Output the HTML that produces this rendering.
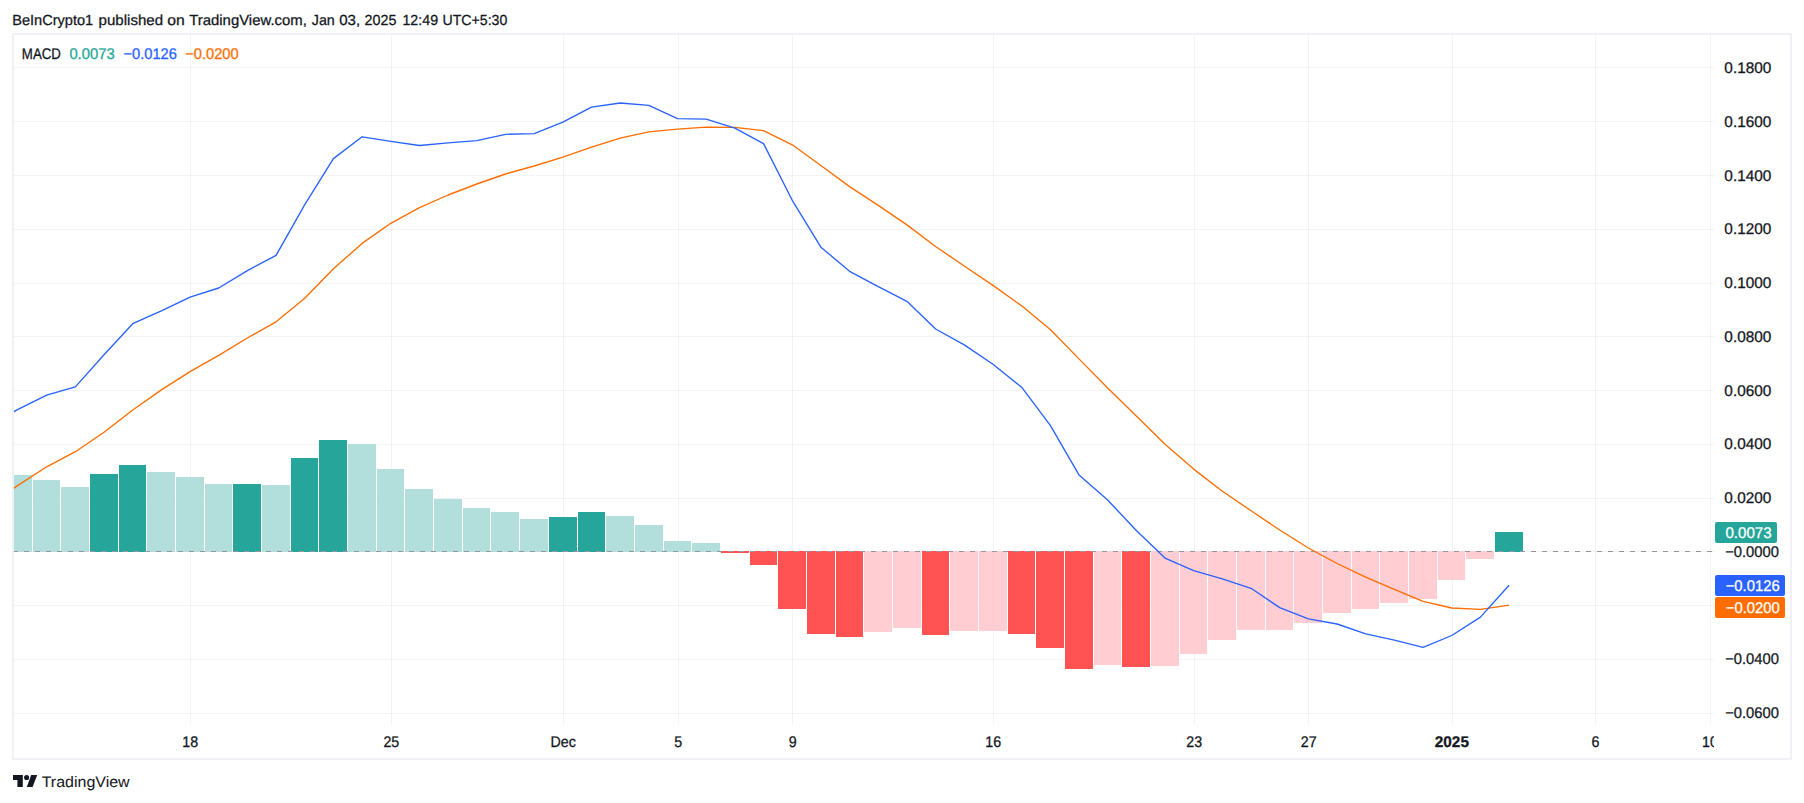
<!DOCTYPE html>
<html lang="en"><head><meta charset="utf-8"><title>MACD chart</title>
<style>
html,body{margin:0;padding:0;background:#fff;}
body{width:1804px;height:803px;overflow:hidden;position:relative;font-family:"Liberation Sans", "DejaVu Sans", sans-serif;color:#131722;}
svg{position:absolute;left:0;top:0;display:block;}
svg text{font-family:"Liberation Sans", "DejaVu Sans", sans-serif;text-rendering:geometricPrecision;}
</style></head><body>
<svg width="1804" height="803" viewBox="0 0 1804 803">
<rect x="0" y="0" width="1804" height="803" fill="#ffffff"/>
<rect x="13" y="34" width="1778" height="725" fill="none" stroke="#eff1f6" stroke-width="2"/>
<defs><clipPath id="pane"><rect x="14" y="35" width="1696" height="689"/></clipPath><clipPath id="zl"><rect x="14" y="545" width="1699" height="12"/></clipPath><clipPath id="taxis"><rect x="14" y="724" width="1700" height="34"/></clipPath></defs>
<g shape-rendering="crispEdges" fill="rgba(42,46,57,0.06)">
<rect x="190" y="35" width="1" height="689"/><rect x="391" y="35" width="1" height="689"/><rect x="563" y="35" width="1" height="689"/><rect x="678" y="35" width="1" height="689"/><rect x="792" y="35" width="1" height="689"/><rect x="993" y="35" width="1" height="689"/><rect x="1194" y="35" width="1" height="689"/><rect x="1308" y="35" width="1" height="689"/><rect x="1452" y="35" width="1" height="689"/><rect x="1595" y="35" width="1" height="689"/>
<rect x="14" y="67" width="1700" height="1"/><rect x="14" y="121" width="1700" height="1"/><rect x="14" y="175" width="1700" height="1"/><rect x="14" y="229" width="1700" height="1"/><rect x="14" y="283" width="1700" height="1"/><rect x="14" y="336" width="1700" height="1"/><rect x="14" y="390" width="1700" height="1"/><rect x="14" y="444" width="1700" height="1"/><rect x="14" y="498" width="1700" height="1"/><rect x="14" y="551" width="1700" height="1"/><rect x="14" y="605" width="1700" height="1"/><rect x="14" y="659" width="1700" height="1"/><rect x="14" y="713" width="1700" height="1"/>
<rect x="1710" y="35" width="1" height="689"/></g>
<g shape-rendering="crispEdges" clip-path="url(#pane)">
<rect x="4" y="475" width="28" height="77" fill="#b2dfdb"/><rect x="33" y="480" width="27" height="72" fill="#b2dfdb"/><rect x="61" y="487" width="28" height="65" fill="#b2dfdb"/><rect x="90" y="474" width="28" height="78" fill="#26a69a"/><rect x="119" y="465" width="27" height="87" fill="#26a69a"/><rect x="147" y="472" width="28" height="80" fill="#b2dfdb"/><rect x="176" y="477" width="28" height="75" fill="#b2dfdb"/><rect x="205" y="484" width="27" height="68" fill="#b2dfdb"/><rect x="233" y="484" width="28" height="68" fill="#26a69a"/><rect x="262" y="485" width="28" height="67" fill="#b2dfdb"/><rect x="291" y="458" width="27" height="94" fill="#26a69a"/><rect x="319" y="440" width="28" height="112" fill="#26a69a"/><rect x="348" y="444" width="28" height="108" fill="#b2dfdb"/><rect x="377" y="469" width="27" height="83" fill="#b2dfdb"/><rect x="405" y="489" width="28" height="63" fill="#b2dfdb"/><rect x="434" y="499" width="28" height="53" fill="#b2dfdb"/><rect x="463" y="508" width="27" height="44" fill="#b2dfdb"/><rect x="491" y="512" width="28" height="40" fill="#b2dfdb"/><rect x="520" y="519" width="28" height="33" fill="#b2dfdb"/><rect x="549" y="517" width="28" height="35" fill="#26a69a"/><rect x="578" y="512" width="27" height="40" fill="#26a69a"/><rect x="606" y="516" width="28" height="36" fill="#b2dfdb"/><rect x="635" y="525" width="28" height="27" fill="#b2dfdb"/><rect x="664" y="541" width="27" height="11" fill="#b2dfdb"/><rect x="692" y="543" width="28" height="9" fill="#b2dfdb"/><rect x="721" y="551" width="28" height="2" fill="#ff5252"/><rect x="750" y="551" width="27" height="14" fill="#ff5252"/><rect x="778" y="551" width="28" height="58" fill="#ff5252"/><rect x="807" y="551" width="28" height="83" fill="#ff5252"/><rect x="836" y="551" width="27" height="86" fill="#ff5252"/><rect x="864" y="551" width="28" height="81" fill="#ffcdd2"/><rect x="893" y="551" width="28" height="77" fill="#ffcdd2"/><rect x="922" y="551" width="27" height="84" fill="#ff5252"/><rect x="950" y="551" width="28" height="80" fill="#ffcdd2"/><rect x="979" y="551" width="28" height="80" fill="#ffcdd2"/><rect x="1008" y="551" width="27" height="83" fill="#ff5252"/><rect x="1036" y="551" width="28" height="97" fill="#ff5252"/><rect x="1065" y="551" width="28" height="118" fill="#ff5252"/><rect x="1094" y="551" width="27" height="114" fill="#ffcdd2"/><rect x="1122" y="551" width="28" height="116" fill="#ff5252"/><rect x="1151" y="551" width="28" height="115" fill="#ffcdd2"/><rect x="1180" y="551" width="27" height="103" fill="#ffcdd2"/><rect x="1208" y="551" width="28" height="89" fill="#ffcdd2"/><rect x="1237" y="551" width="28" height="79" fill="#ffcdd2"/><rect x="1266" y="551" width="27" height="79" fill="#ffcdd2"/><rect x="1294" y="551" width="28" height="72" fill="#ffcdd2"/><rect x="1323" y="551" width="28" height="62" fill="#ffcdd2"/><rect x="1352" y="551" width="27" height="58" fill="#ffcdd2"/><rect x="1380" y="551" width="28" height="52" fill="#ffcdd2"/><rect x="1409" y="551" width="28" height="48" fill="#ffcdd2"/><rect x="1438" y="551" width="27" height="29" fill="#ffcdd2"/><rect x="1466" y="551" width="28" height="8" fill="#ffcdd2"/><rect x="1495" y="532" width="28" height="20" fill="#26a69a"/>
</g>
<line x1="13" y1="551.5" x2="1713" y2="551.5" stroke="#9598a1" stroke-width="1" stroke-dasharray="5 6" shape-rendering="crispEdges" clip-path="url(#zl)"/>
<polyline clip-path="url(#pane)" points="-10.68,505.00 18.00,485.40 46.67,466.80 75.35,451.70 104.03,432.20 132.70,410.00 161.38,389.90 190.05,371.60 218.72,355.30 247.40,338.00 276.07,321.80 304.75,298.30 333.43,268.80 362.10,243.40 390.78,223.30 419.45,207.60 448.12,195.00 476.80,184.00 505.48,174.00 534.15,166.00 562.83,157.20 591.50,147.20 620.18,138.20 648.85,131.80 677.52,129.10 706.20,127.10 734.88,127.30 763.55,130.60 792.23,144.80 820.90,165.50 849.58,186.60 878.25,205.40 906.93,224.90 935.60,246.50 964.27,266.00 992.95,285.40 1021.62,305.80 1050.30,329.50 1078.98,358.90 1107.65,388.00 1136.33,416.00 1165.00,444.20 1193.67,469.10 1222.35,491.30 1251.03,510.70 1279.70,530.00 1308.38,548.00 1337.05,563.50 1365.73,577.20 1394.40,589.40 1423.08,601.40 1451.75,608.00 1480.42,609.40 1509.10,605.20" fill="none" stroke="#ff6d00" stroke-width="1.35" stroke-linejoin="round" stroke-linecap="butt"/>
<polyline clip-path="url(#pane)" points="-10.68,425.80 18.00,409.30 46.67,395.20 75.35,386.90 104.03,354.70 132.70,323.70 161.38,310.90 190.05,297.20 218.72,288.00 247.40,270.60 276.07,255.40 304.75,204.60 333.43,158.60 362.10,136.80 390.78,141.30 419.45,145.50 448.12,142.80 476.80,140.60 505.48,134.30 534.15,133.60 562.83,122.20 591.50,107.20 620.18,103.00 648.85,105.40 677.52,118.60 706.20,119.10 734.88,128.10 763.55,143.60 792.23,200.30 820.90,247.20 849.58,271.30 878.25,286.60 906.93,301.30 935.60,329.00 964.27,344.90 992.95,364.30 1021.62,387.20 1050.30,425.30 1078.98,474.90 1107.65,500.00 1136.33,530.50 1165.00,558.10 1193.67,570.60 1222.35,578.80 1251.03,588.30 1279.70,607.60 1308.38,618.90 1337.05,624.00 1365.73,633.80 1394.40,640.20 1423.08,647.30 1451.75,635.50 1480.42,617.10 1509.10,585.20" fill="none" stroke="#2962ff" stroke-width="1.35" stroke-linejoin="round" stroke-linecap="butt"/>
<text transform="translate(1724.36,73.20) scale(0.9582,0.9650)" font-size="16" fill="#131722" stroke="#131722" stroke-width="0.3">0.1800</text>
<text transform="translate(1724.36,126.95) scale(0.9582,0.9650)" font-size="16" fill="#131722" stroke="#131722" stroke-width="0.3">0.1600</text>
<text transform="translate(1724.36,180.70) scale(0.9582,0.9650)" font-size="16" fill="#131722" stroke="#131722" stroke-width="0.3">0.1400</text>
<text transform="translate(1724.36,234.45) scale(0.9582,0.9650)" font-size="16" fill="#131722" stroke="#131722" stroke-width="0.3">0.1200</text>
<text transform="translate(1724.36,288.20) scale(0.9582,0.9650)" font-size="16" fill="#131722" stroke="#131722" stroke-width="0.3">0.1000</text>
<text transform="translate(1724.36,341.95) scale(0.9582,0.9650)" font-size="16" fill="#131722" stroke="#131722" stroke-width="0.3">0.0800</text>
<text transform="translate(1724.36,395.70) scale(0.9582,0.9650)" font-size="16" fill="#131722" stroke="#131722" stroke-width="0.3">0.0600</text>
<text transform="translate(1724.36,449.45) scale(0.9582,0.9650)" font-size="16" fill="#131722" stroke="#131722" stroke-width="0.3">0.0400</text>
<text transform="translate(1724.36,503.20) scale(0.9582,0.9650)" font-size="16" fill="#131722" stroke="#131722" stroke-width="0.3">0.0200</text>
<text transform="translate(1725.14,556.95) scale(0.9213,0.9650)" font-size="16" fill="#131722" stroke="#131722" stroke-width="0.3">−0.0000</text>
<text transform="translate(1725.14,664.45) scale(0.9213,0.9650)" font-size="16" fill="#131722" stroke="#131722" stroke-width="0.3">−0.0400</text>
<text transform="translate(1725.14,718.20) scale(0.9213,0.9650)" font-size="16" fill="#131722" stroke="#131722" stroke-width="0.3">−0.0600</text>
<rect x="1715" y="522" width="62" height="21" rx="2" fill="#26a69a"/>
<text transform="translate(1725.47,538.05) scale(0.9430,0.9650)" font-size="16" fill="#ffffff" stroke="#ffffff" stroke-width="0.3">0.0073</text>
<rect x="1715" y="575" width="70" height="21" rx="2" fill="#2962ff"/>
<text transform="translate(1725.73,591.15) scale(0.9244,0.9650)" font-size="16" fill="#ffffff" stroke="#ffffff" stroke-width="0.3">−0.0126</text>
<rect x="1715" y="597" width="70" height="21" rx="2" fill="#ff6d00"/>
<text transform="translate(1725.73,613.25) scale(0.9266,0.9650)" font-size="16" fill="#ffffff" stroke="#ffffff" stroke-width="0.3">−0.0200</text>
<g clip-path="url(#taxis)">
<text transform="translate(182.34,747.30) scale(0.8900,0.9650)" font-size="16" fill="#131722" stroke="#131722" stroke-width="0.3">18</text>
<text transform="translate(383.42,747.30) scale(0.8900,0.9650)" font-size="16" fill="#131722" stroke="#131722" stroke-width="0.3">25</text>
<text transform="translate(550.45,747.30) scale(0.8900,0.9650)" font-size="16" fill="#131722" stroke="#131722" stroke-width="0.3">Dec</text>
<text transform="translate(674.35,747.30) scale(0.8900,0.9650)" font-size="16" fill="#131722" stroke="#131722" stroke-width="0.3">5</text>
<text transform="translate(788.75,747.30) scale(0.8900,0.9650)" font-size="16" fill="#131722" stroke="#131722" stroke-width="0.3">9</text>
<text transform="translate(985.34,747.30) scale(0.8900,0.9650)" font-size="16" fill="#131722" stroke="#131722" stroke-width="0.3">16</text>
<text transform="translate(1186.32,747.30) scale(0.8900,0.9650)" font-size="16" fill="#131722" stroke="#131722" stroke-width="0.3">23</text>
<text transform="translate(1300.85,747.30) scale(0.8900,0.9650)" font-size="16" fill="#131722" stroke="#131722" stroke-width="0.3">27</text>
<text transform="translate(1591.48,747.30) scale(0.8900,0.9650)" font-size="16" fill="#131722" stroke="#131722" stroke-width="0.3">6</text>
<text transform="translate(1702.10,747.30) scale(0.8900,0.9650)" font-size="16" fill="#131722" stroke="#131722" stroke-width="0.3">10</text>
<text transform="translate(1434.84,747.30) scale(0.9569,0.9650)" font-size="16" fill="#131722" stroke="#131722" stroke-width="0.3" font-weight="bold">2025</text>
</g>
<text transform="translate(21.84,58.85) scale(0.8297,0.9650)" font-size="16" fill="#131722" stroke="#131722" stroke-width="0.3">MACD</text>
<text transform="translate(69.38,58.85) scale(0.9242,0.9650)" font-size="16" fill="#26a69a" stroke="#26a69a" stroke-width="0.3">0.0073</text>
<text transform="translate(123.44,58.85) scale(0.9174,0.9650)" font-size="16" fill="#2962ff" stroke="#2962ff" stroke-width="0.3">−0.0126</text>
<text transform="translate(185.24,58.85) scale(0.9161,0.9650)" font-size="16" fill="#ff6d00" stroke="#ff6d00" stroke-width="0.3">−0.0200</text>
<g id="header">
<text transform="translate(12.24,24.55) scale(0.9100,0.9100)" font-size="16" fill="#131722" stroke="#131722" stroke-width="0.3">BeInCrypto1</text>
<text transform="translate(98.60,24.55) scale(0.9405,0.9100)" font-size="16" fill="#131722" stroke="#131722" stroke-width="0.3">published</text>
<text transform="translate(167.27,24.55) scale(0.9828,0.9100)" font-size="16" fill="#131722" stroke="#131722" stroke-width="0.3">on</text>
<text transform="translate(189.20,24.55) scale(0.9313,0.9100)" font-size="16" fill="#131722" stroke="#131722" stroke-width="0.3">TradingView.com,</text>
<text transform="translate(311.79,24.55) scale(0.8910,0.9100)" font-size="16" fill="#131722" stroke="#131722" stroke-width="0.3">Jan</text>
<text transform="translate(339.17,24.55) scale(0.9420,0.9100)" font-size="16" fill="#131722" stroke="#131722" stroke-width="0.3">03,</text>
<text transform="translate(364.58,24.55) scale(0.8964,0.9100)" font-size="16" fill="#131722" stroke="#131722" stroke-width="0.3">2025</text>
<text transform="translate(402.43,24.55) scale(0.8897,0.9100)" font-size="16" fill="#131722" stroke="#131722" stroke-width="0.3">12:49</text>
<text transform="translate(442.54,24.55) scale(0.8828,0.9100)" font-size="16" fill="#131722" stroke="#131722" stroke-width="0.3">UTC+5:30</text>
</g>
<g fill="#131722"><path d="M13 775H22.8V787H17.4V780H13Z"/><circle cx="26.6" cy="777.5" r="2.55"/><path d="M31.2 775H37.2L32.6 787H26.8Z"/></g>
<text transform="translate(41.68,786.90) scale(0.9992,0.9450)" font-size="16" fill="#131722" stroke="#131722" stroke-width="0.05">TradingView</text>
</svg>
</body></html>
